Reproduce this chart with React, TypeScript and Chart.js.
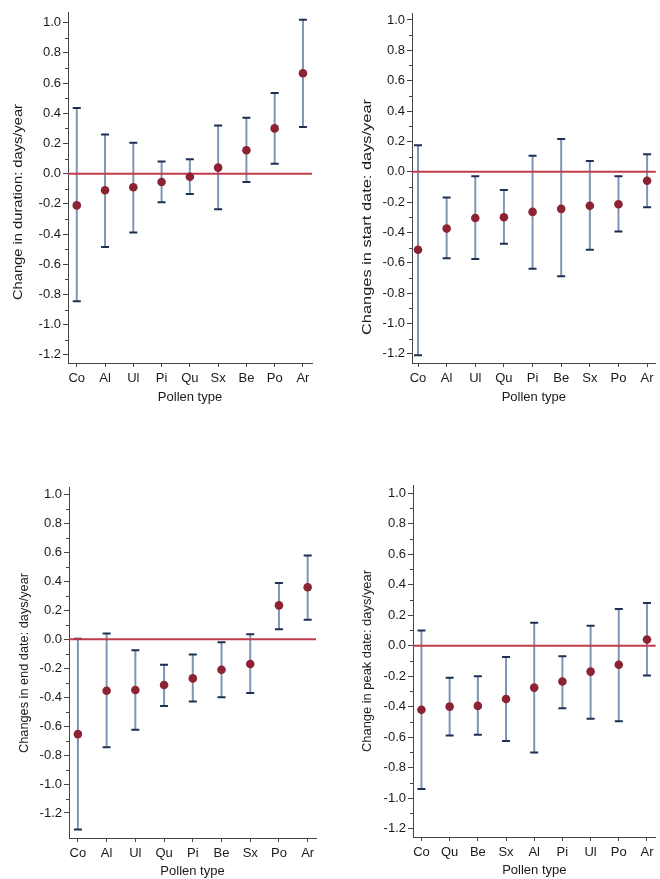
import React, { useEffect, useRef } from "react";
import { Chart, registerables } from "chart.js";

Chart.register(...registerables);

// ---------- data ----------
const yTickValues = [-1.2, -1.0, -0.8, -0.6, -0.4, -0.2, 0.0, 0.2, 0.4, 0.6, 0.8, 1.0];
const yMinorValues = [-1.1, -0.9, -0.7, -0.5, -0.3, -0.1, 0.1, 0.3, 0.5, 0.7, 0.9];
const xAxisTitle = "Pollen type";

const durationCats = ["Co", "Al", "Ul", "Pi", "Qu", "Sx", "Be", "Po", "Ar"];
const durationMean = [-0.21, -0.11, -0.09, -0.055, -0.02, 0.04, 0.155, 0.3, 0.665];
const durationLow = [-0.845, -0.485, -0.39, -0.19, -0.135, -0.235, -0.055, 0.065, 0.31];
const durationHigh = [0.435, 0.26, 0.205, 0.08, 0.095, 0.32, 0.37, 0.535, 1.02];

const startCats = ["Co", "Al", "Ul", "Qu", "Pi", "Be", "Sx", "Po", "Ar"];
const startMean = [-0.515, -0.375, -0.305, -0.3, -0.265, -0.245, -0.225, -0.215, -0.06];
const startLow = [-1.21, -0.57, -0.575, -0.475, -0.64, -0.69, -0.515, -0.395, -0.235];
const startHigh = [0.175, -0.17, -0.03, -0.12, 0.105, 0.215, 0.07, -0.03, 0.115];

const endCats = ["Co", "Al", "Ul", "Qu", "Pi", "Be", "Sx", "Po", "Ar"];
const endMean = [-0.655, -0.355, -0.35, -0.315, -0.27, -0.21, -0.17, 0.235, 0.36];
const endLow = [-1.315, -0.745, -0.625, -0.46, -0.43, -0.4, -0.37, 0.07, 0.135];
const endHigh = [0.005, 0.04, -0.075, -0.175, -0.105, -0.02, 0.035, 0.39, 0.58];

const peakCats = ["Co", "Qu", "Be", "Sx", "Al", "Pi", "Ul", "Po", "Ar"];
const peakMean = [-0.42, -0.4, -0.395, -0.35, -0.275, -0.235, -0.17, -0.125, 0.04];
const peakLow = [-0.94, -0.59, -0.585, -0.625, -0.7, -0.41, -0.48, -0.495, -0.195];
const peakHigh = [0.1, -0.21, -0.2, -0.075, 0.15, -0.07, 0.13, 0.24, 0.28];

// ---------- styles ----------
const FONT = "'Liberation Sans', Arial, Helvetica, sans-serif";
const FONT_SIZE = 13;
const TEXT_COLOR = "#1a1a1a";
const AXIS_COLOR = "#444444";
const BAR_COLOR = "#7f95b3";
const CAP_COLOR = "#1d2f52";
const POINT_COLOR = "#8b2332";
const ZERO_COLOR = "#c23b4b";

type PanelProps = {
  cats: string[];
  mean: number[];
  low: number[];
  high: number[];
  yTitle: string;
  box: { left: number; top: number; width: number; height: number };
  plot: { left: number; top: number; right: number; bottom: number };
  yRange: [number, number];
  xRange: [number, number];
  yTitlePos: [number, number];
  yTitleLength: number;
  xTitleCenterY: number;
};

function Panel(p: PanelProps) {
  const ref = useRef<HTMLCanvasElement | null>(null);

  useEffect(() => {
    const canvas = ref.current;
    if (!canvas) return;
    const { box, plot } = p;
    const yAxisWidth = plot.left - box.left;
    const xAxisHeight = box.top + box.height - plot.bottom;
    const titleLine = FONT_SIZE * 1.2;
    const xTitlePadBottom = Math.max(0, box.top + box.height - p.xTitleCenterY - titleLine / 2);

    const overlay = {
      id: "errorbars",
      beforeDatasetsDraw(chart: any) {
        const ctx = chart.ctx as CanvasRenderingContext2D;
        const xs = chart.scales.x;
        const ys = chart.scales.y;
        const area = chart.chartArea;
        ctx.save();
        for (let i = 0; i < p.mean.length; i++) {
          const x = xs.getPixelForValue(i);
          const yl = ys.getPixelForValue(p.low[i]);
          const yh = ys.getPixelForValue(p.high[i]);
          ctx.strokeStyle = BAR_COLOR;
          ctx.lineWidth = 2;
          ctx.beginPath();
          ctx.moveTo(x, yl);
          ctx.lineTo(x, yh);
          ctx.stroke();
          ctx.strokeStyle = CAP_COLOR;
          ctx.lineWidth = 2;
          ctx.beginPath();
          ctx.moveTo(x - 4, yl);
          ctx.lineTo(x + 4, yl);
          ctx.moveTo(x - 4, yh);
          ctx.lineTo(x + 4, yh);
          ctx.stroke();
        }
        const y0 = ys.getPixelForValue(0);
        ctx.strokeStyle = ZERO_COLOR;
        ctx.lineWidth = 2;
        ctx.beginPath();
        ctx.moveTo(area.left, y0);
        ctx.lineTo(area.right, y0);
        ctx.stroke();
        ctx.restore();
      },
      afterDraw(chart: any) {
        const ctx = chart.ctx as CanvasRenderingContext2D;
        const ys = chart.scales.y;
        const area = chart.chartArea;
        ctx.save();
        ctx.strokeStyle = AXIS_COLOR;
        ctx.lineWidth = 1;
        ctx.beginPath();
        for (const v of yMinorValues) {
          const y = Math.round(ys.getPixelForValue(v)) + 0.5;
          ctx.moveTo(area.left - 3, y);
          ctx.lineTo(area.left, y);
        }
        ctx.stroke();
        ctx.fillStyle = TEXT_COLOR;
        ctx.font = `${FONT_SIZE}px ${FONT}`;
        ctx.textAlign = "center";
        ctx.textBaseline = "middle";
        const w = ctx.measureText(p.yTitle).width;
        const sx = w > 0 ? p.yTitleLength / w : 1;
        ctx.translate(p.yTitlePos[0] - box.left, p.yTitlePos[1] - box.top);
        ctx.rotate(-Math.PI / 2);
        ctx.scale(sx, 1);
        ctx.fillText(p.yTitle, 0, 0);
        ctx.restore();
      },
    };

    const chart = new Chart(canvas, {
      type: "scatter",
      data: {
        datasets: [
          {
            data: p.mean.map((m, i) => ({ x: i, y: m })),
            pointRadius: 4.3,
            pointHoverRadius: 4.3,
            backgroundColor: POINT_COLOR,
            borderColor: POINT_COLOR,
            borderWidth: 0,
          },
        ],
      },
      options: {
        animation: false,
        responsive: false,
        devicePixelRatio: 1,
        events: [],
        layout: {
          padding: {
            left: 0,
            top: plot.top - box.top,
            right: box.left + box.width - plot.right,
            bottom: 0,
          },
        },
        plugins: {
          legend: { display: false },
          tooltip: { enabled: false },
        },
        scales: {
          x: {
            type: "linear",
            min: p.xRange[0],
            max: p.xRange[1],
            afterBuildTicks: (s: any) => {
              s.ticks = p.cats.map((_, i) => ({ value: i }));
            },
            afterFit: (s: any) => {
              s.height = xAxisHeight;
            },
            ticks: {
              autoSkip: false,
              maxRotation: 0,
              padding: 4,
              color: TEXT_COLOR,
              font: { family: FONT, size: FONT_SIZE },
              callback: (v: any) => p.cats[Math.round(Number(v))] ?? "",
            },
            grid: {
              display: true,
              drawOnChartArea: false,
              drawTicks: true,
              tickLength: 4,
              tickColor: AXIS_COLOR,
            },
            border: { display: true, color: AXIS_COLOR, width: 1 },
            title: {
              display: true,
              text: xAxisTitle,
              color: TEXT_COLOR,
              font: { family: FONT, size: FONT_SIZE },
              padding: { top: 0, bottom: xTitlePadBottom },
            },
          },
          y: {
            type: "linear",
            min: p.yRange[0],
            max: p.yRange[1],
            afterBuildTicks: (s: any) => {
              s.ticks = yTickValues.map((v) => ({ value: v }));
            },
            afterFit: (s: any) => {
              s.width = yAxisWidth;
            },
            ticks: {
              autoSkip: false,
              padding: 2,
              color: TEXT_COLOR,
              font: { family: FONT, size: FONT_SIZE },
              callback: (v: any) => Number(v).toFixed(1),
            },
            grid: {
              display: true,
              drawOnChartArea: false,
              drawTicks: true,
              tickLength: 5,
              tickColor: AXIS_COLOR,
            },
            border: { display: true, color: AXIS_COLOR, width: 1 },
          },
        },
      },
      plugins: [overlay],
    } as any);

    return () => {
      chart.destroy();
    };
  }, []);

  return (
    <canvas
      ref={ref}
      width={p.box.width}
      height={p.box.height}
      style={{
        position: "absolute",
        left: p.box.left,
        top: p.box.top,
        width: p.box.width,
        height: p.box.height,
      }}
    />
  );
}

export default function App() {
  return (
    <div
      style={{
        position: "absolute",
        left: 0,
        top: 0,
        width: 660,
        height: 879,
        background: "#ffffff",
        overflow: "hidden",
      }}
    >
      <Panel
        cats={durationCats}
        mean={durationMean}
        low={durationLow}
        high={durationHigh}
        yTitle="Change in duration: days/year"
        box={{ left: 0, top: 0, width: 330, height: 430 }}
        plot={{ left: 68, top: 12, right: 312, bottom: 363 }}
        yRange={[-1.254, 1.071]}
        xRange={[-0.31, 8.32]}
        yTitlePos={[18, 202]}
        yTitleLength={196}
        xTitleCenterY={397}
      />
      <Panel
        cats={startCats}
        mean={startMean}
        low={startLow}
        high={startHigh}
        yTitle="Changes in start date: days/year"
        box={{ left: 330, top: 0, width: 330, height: 430 }}
        plot={{ left: 412, top: 13, right: 658, bottom: 363 }}
        yRange={[-1.261, 1.046]}
        xRange={[-0.21, 8.3]}
        yTitlePos={[367, 217]}
        yTitleLength={236}
        xTitleCenterY={397}
      />
      <Panel
        cats={endCats}
        mean={endMean}
        low={endLow}
        high={endHigh}
        yTitle="Changes in end date: days/year"
        box={{ left: 0, top: 430, width: 330, height: 449 }}
        plot={{ left: 69, top: 487, right: 316, bottom: 838 }}
        yRange={[-1.373, 1.053]}
        xRange={[-0.31, 8.29]}
        yTitlePos={[24, 663]}
        yTitleLength={180}
        xTitleCenterY={871}
      />
      <Panel
        cats={peakCats}
        mean={peakMean}
        low={peakLow}
        high={peakHigh}
        yTitle="Change in peak date: days/year"
        box={{ left: 330, top: 430, width: 330, height: 449 }}
        plot={{ left: 413, top: 485, right: 660, bottom: 837 }}
        yRange={[-1.255, 1.054]}
        xRange={[-0.3, 8.31]}
        yTitlePos={[367, 661]}
        yTitleLength={182}
        xTitleCenterY={870}
      />
    </div>
  );
}
